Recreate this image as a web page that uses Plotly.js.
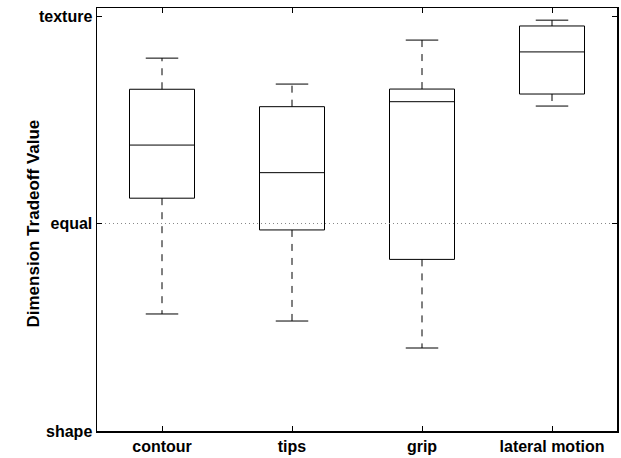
<!DOCTYPE html>
<html>
<head>
<meta charset="utf-8">
<script src="https://cdn.plot.ly/plotly-3.0.1.min.js"></script>
<style>html,body{margin:0;padding:0;background:#fff}#chart{width:621px;height:458px}</style>
</head>
<body>
<div id="chart"></div>
<script>
var categories = ["contour", "tips", "grip", "lateral motion"];
var positions = [1, 2, 3, 4];
var lowerWhisker = [-0.436, -0.47, -0.600, 0.566];
var q1Values = [0.122, -0.031, -0.173, 0.624];
var medianValues = [0.378, 0.245, 0.587, 0.827];
var q3Values = [0.647, 0.563, 0.648, 0.952];
var upperWhisker = [0.797, 0.672, 0.884, 0.980];
var yTickVals = [-1, 0, 1];
var yTickText = ["shape", "equal", "texture"];
var yTitle = "Dimension Tradeoff Value";

var capHalf = 0.125;
var wx = [], wy = [], cx = [], cy = [];
for (var i = 0; i < positions.length; i++) {
  var p = positions[i];
  wx.push(p, p, null, p, p, null);
  wy.push(q3Values[i], upperWhisker[i], null, q1Values[i], lowerWhisker[i], null);
  cx.push(p - capHalf, p + capHalf, null, p - capHalf, p + capHalf, null);
  cy.push(upperWhisker[i], upperWhisker[i], null, lowerWhisker[i], lowerWhisker[i], null);
}

var traces = [
  {
    type: "scatter", mode: "lines", x: [0.5, 4.5], y: [0, 0],
    line: {color: "#888", width: 1, dash: "1px,3px"}, hoverinfo: "skip", showlegend: false
  },
  {
    type: "scatter", mode: "lines", x: wx, y: wy,
    line: {color: "#000", width: 1, dash: "7px,7px"}, showlegend: false
  },
  {
    type: "scatter", mode: "lines", x: cx, y: cy,
    line: {color: "#000", width: 1}, showlegend: false
  },
  {
    type: "box", x: positions, q1: q1Values, median: medianValues, q3: q3Values,
    lowerfence: q1Values, upperfence: q3Values, width: 0.5, whiskerwidth: 0,
    line: {color: "#000", width: 1}, fillcolor: "rgba(0,0,0,0)", showlegend: false,
    boxpoints: false
  }
];

var fontBold = {family: "Liberation Sans, Arial, sans-serif", size: 16, color: "#000", weight: "bold"};

var layout = {
  width: 621, height: 458,
  margin: {l: 97, r: 4, t: 8, b: 27},
  paper_bgcolor: "#fff", plot_bgcolor: "#fff",
  showlegend: false,
  xaxis: {
    range: [0.5, 4.5], tickvals: positions, ticktext: categories,
    ticks: "inside", ticklen: 5, tickwidth: 1, tickcolor: "#000",
    showline: true, linecolor: "#000", linewidth: 1.5, mirror: "ticks",
    showgrid: false, zeroline: false, tickfont: fontBold
  },
  yaxis: {
    range: [-1, 1.0386], tickvals: yTickVals, ticktext: yTickText,
    ticks: "inside", ticklen: 5, tickwidth: 1, tickcolor: "#000",
    showline: true, linecolor: "#000", linewidth: 1.5, mirror: "ticks",
    showgrid: false, zeroline: false, tickfont: fontBold
  },
  annotations: [{
    text: yTitle, xref: "paper", yref: "paper", x: 0, y: 0.5,
    xanchor: "center", yanchor: "middle", xshift: -64, yshift: -4,
    textangle: -90, showarrow: false,
    font: {family: "Liberation Sans, Arial, sans-serif", size: 17, color: "#000", weight: "bold"}
  }]
};

Plotly.newPlot("chart", traces, layout, {staticPlot: true, displayModeBar: false});
</script>
</body>
</html>
